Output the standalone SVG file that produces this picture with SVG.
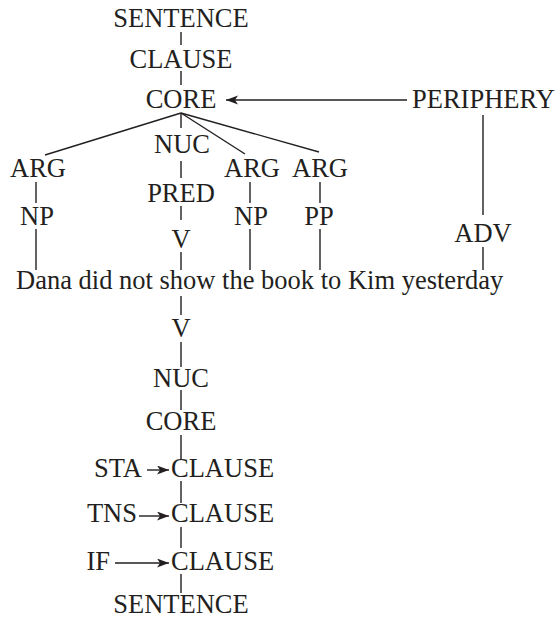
<svg xmlns="http://www.w3.org/2000/svg" width="555" height="622" viewBox="0 0 555 622">
<style>
text{font-family:"Liberation Serif","Times New Roman",serif;font-size:26.5px;fill:#231f20}
.m{text-anchor:middle}
.e{text-anchor:end}
line{stroke:#231f20;stroke-width:1.4}
</style>
<defs>
<marker id="ah" markerUnits="userSpaceOnUse" markerWidth="14" markerHeight="10" refX="12" refY="4.5" orient="auto">
<path d="M0,0 L12,4.5 L0,9 L3,4.5 Z" fill="#231f20"/>
</marker>
</defs>
<g id="connectors">
<line x1="181" y1="32" x2="181" y2="45"/>
<line x1="181" y1="71" x2="181" y2="85"/>
<line x1="407" y1="100" x2="226" y2="100" marker-end="url(#ah)"/>
<line x1="181" y1="113" x2="45" y2="155"/>
<line x1="181" y1="113" x2="181" y2="128"/>
<line x1="181" y1="113" x2="245" y2="154"/>
<line x1="181" y1="113" x2="319" y2="152"/>
<line x1="181" y1="161" x2="181" y2="178"/>
<line x1="36" y1="182" x2="36" y2="203"/>
<line x1="36" y1="229" x2="36" y2="270"/>
<line x1="250" y1="182" x2="250" y2="203"/>
<line x1="250" y1="229" x2="250" y2="270"/>
<line x1="320" y1="182" x2="320" y2="203"/>
<line x1="320" y1="229" x2="320" y2="270"/>
<line x1="181" y1="206" x2="181" y2="220"/>
<line x1="181" y1="252" x2="181" y2="270"/>
<line x1="483" y1="115" x2="483" y2="215"/>
<line x1="483" y1="247" x2="483" y2="270"/>
<line x1="181" y1="296" x2="181" y2="315"/>
<line x1="181" y1="342" x2="181" y2="367"/>
<line x1="181" y1="390" x2="181" y2="410"/>
<line x1="181" y1="435" x2="181" y2="459"/>
<line x1="181" y1="481" x2="181" y2="503"/>
<line x1="181" y1="527" x2="181" y2="548"/>
<line x1="181" y1="574" x2="181" y2="593"/>
<line x1="147" y1="470" x2="169" y2="470" marker-end="url(#ah)"/>
<line x1="139" y1="516" x2="169" y2="516" marker-end="url(#ah)"/>
<line x1="115" y1="563" x2="169" y2="563" marker-end="url(#ah)"/>
</g>
<g id="sentence-top"><text class="m" x="181" y="27">SENTENCE</text></g>
<g id="clause-top"><text class="m" x="181" y="68">CLAUSE</text></g>
<g id="core-top"><text class="m" x="181" y="108">CORE</text></g>
<g id="periphery"><text x="412" y="108">PERIPHERY</text></g>
<g id="nuc-top"><text class="m" x="182" y="153">NUC</text></g>
<g id="arg1"><text class="m" x="38" y="177">ARG</text></g>
<g id="arg2"><text class="m" x="252" y="177">ARG</text></g>
<g id="arg3"><text class="m" x="320" y="177">ARG</text></g>
<g id="pred"><text class="m" x="181" y="202">PRED</text></g>
<g id="np1"><text class="m" x="37" y="225">NP</text></g>
<g id="v-top"><text class="m" x="181" y="248">V</text></g>
<g id="np2"><text class="m" x="251" y="225">NP</text></g>
<g id="pp"><text class="m" x="319" y="225">PP</text></g>
<g id="adv"><text class="m" x="483" y="242">ADV</text></g>
<g id="sentence-text"><text x="16" y="289">Dana did not show the book to Kim yesterday</text></g>
<g id="v-bottom"><text class="m" x="181" y="337">V</text></g>
<g id="nuc-bottom"><text class="m" x="181" y="387">NUC</text></g>
<g id="core-bottom"><text class="m" x="181" y="430">CORE</text></g>
<g id="sta"><text class="e" x="142" y="477">STA</text></g>
<g id="clause-sta"><text x="171" y="477">CLAUSE</text></g>
<g id="tns"><text class="e" x="137" y="522">TNS</text></g>
<g id="clause-tns"><text x="171" y="522">CLAUSE</text></g>
<g id="if"><text class="e" x="110" y="570">IF</text></g>
<g id="clause-if"><text x="171" y="570">CLAUSE</text></g>
<g id="sentence-bottom"><text class="m" x="181" y="613">SENTENCE</text></g>
</svg>
